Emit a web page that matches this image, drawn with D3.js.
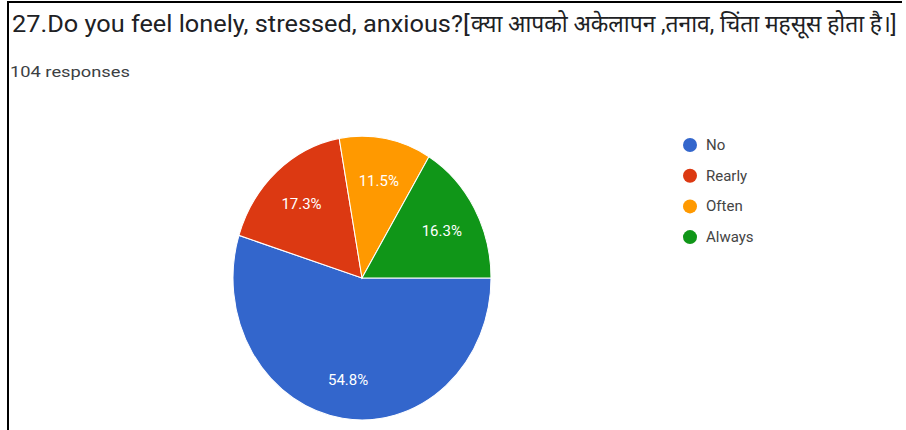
<!DOCTYPE html>
<html>
<head>
<meta charset="utf-8">
<script src="https://cdn.jsdelivr.net/npm/d3@7"></script>
<style>
  html, body { margin: 0; padding: 0; background: #fff; }
  svg { display: block; }
</style>
</head>
<body>
<svg id="chart" width="906" height="430"></svg>
<script>
// Survey question 27 — response shares
const titleText = "27.Do you feel lonely, stressed, anxious?[क्या आपको अकेलापन ,तनाव, चिंता महसूस होता है।]";
const subtitleText = "104 responses";
const categories = ["No", "Rearly", "Often", "Always"];
const percents = [54.8, 17.3, 11.5, 16.3];
const colors = ["#3366cc", "#dc3912", "#ff9900", "#109618"];

const svg = d3.select("#chart");
const H = 430;

// frame lines (top and left)
svg.append("line").attr("x1", 8).attr("x2", 902).attr("y1", 2).attr("y2", 2)
  .attr("stroke", "#000").attr("stroke-width", 2);
svg.append("line").attr("x1", 8).attr("x2", 8).attr("y1", 1).attr("y2", H)
  .attr("stroke", "#000").attr("stroke-width", 2);

// title: English part and Hindi part, each squeezed horizontally into its own span
const split = titleText.indexOf("[") + 1;
const titleParts = [
  { text: titleText.slice(0, split), x: 12, len: 458 },
  { text: titleText.slice(split), x: 471, len: 426 }
];
svg.selectAll("text.title").data(titleParts).join("text")
  .attr("class", "title")
  .attr("x", 0).attr("y", 0)
  .attr("font-family", "Roboto, 'Noto Sans', 'DejaVu Sans', sans-serif")
  .attr("font-size", 24)
  .attr("fill", "#202124")
  .text(d => d.text)
  .each(function(d) {
    const w = this.getComputedTextLength();
    d3.select(this).attr("transform", `translate(${d.x},32) scale(${d.len / w},1)`);
  });

const sub = svg.append("text")
  .attr("x", 0).attr("y", 0)
  .attr("font-family", "Roboto, 'Noto Sans', sans-serif")
  .attr("font-size", 14)
  .attr("fill", "#3c4043")
  .text(subtitleText);
sub.attr("transform", `translate(10,77) scale(${120 / sub.node().getComputedTextLength()},1)`);

// pie (drawn as a slightly tall ellipse)
const cx = 362, cy = 278, r = 129, sy = 1.1;
const data = categories.map((c, i) => ({ cat: c, value: percents[i], color: colors[i] }));
const pie = d3.pie().value(d => d.value).sort(null)
  .startAngle(Math.PI / 2).endAngle(Math.PI / 2 + 2 * Math.PI);
const arcs = pie(data);
const arc = d3.arc().innerRadius(0).outerRadius(r);
const labelArc = d3.arc().innerRadius(r * 0.71).outerRadius(r * 0.71);

const g = svg.append("g").attr("transform", `translate(${cx},${cy}) scale(1,${sy})`);
g.selectAll("path.slice").data(arcs).join("path")
  .attr("class", "slice")
  .attr("d", arc)
  .attr("fill", d => d.data.color)
  .attr("stroke", "#fff")
  .attr("stroke-width", 1);

const lg = svg.append("g").attr("transform", `translate(${cx},${cy + 2})`);
lg.selectAll("text").data(arcs).join("text")
  .attr("x", d => labelArc.centroid(d)[0])
  .attr("y", d => labelArc.centroid(d)[1] * sy)
  .attr("text-anchor", "middle")
  .attr("dominant-baseline", "central")
  .attr("font-family", "Roboto, Arial, sans-serif")
  .attr("font-size", 15)
  .attr("fill", "#fff")
  .text(d => d.data.value.toFixed(1) + "%");

// legend
const legend = svg.append("g").attr("transform", "translate(690,145)");
const items = legend.selectAll("g").data(data).join("g")
  .attr("transform", (d, i) => `translate(0,${i * 30.7})`);
items.append("circle").attr("r", 7).attr("fill", d => d.color);
items.append("text")
  .attr("x", 16).attr("y", 0)
  .attr("dominant-baseline", "central")
  .attr("font-family", "Roboto, Arial, sans-serif")
  .attr("font-size", 15)
  .attr("fill", "#444")
  .text(d => d.cat);
</script>
</body>
</html>
